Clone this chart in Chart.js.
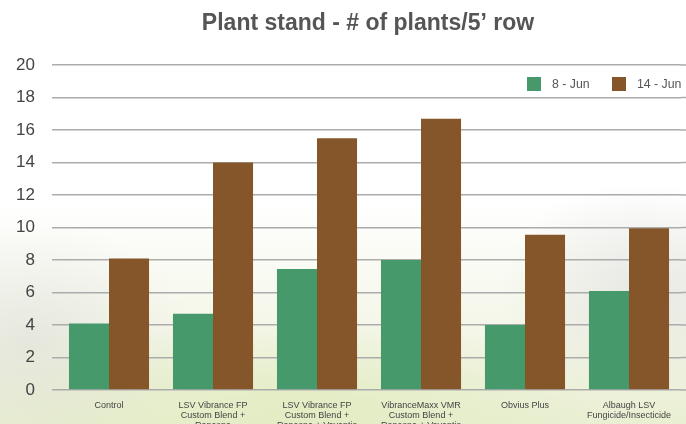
<!DOCTYPE html>
<html>
<head>
<meta charset="utf-8">
<script src="https://cdn.jsdelivr.net/npm/chart.js@4"></script>
<style>
    html, body { margin: 0; padding: 0; }
    body {
        width: 686px; height: 424px; overflow: hidden;
        background:
            radial-gradient(ellipse 160px 120px at 30px 340px, rgba(205,205,205,0.35), rgba(255,255,255,0)),
            radial-gradient(ellipse 140px 110px at 640px 290px, rgba(215,215,215,0.5), rgba(255,255,255,0)),
            radial-gradient(ellipse 300px 90px at 300px 410px, rgba(225,235,190,0.8), rgba(255,255,255,0)),
            linear-gradient(to bottom, #ffffff 0px, #ffffff 200px, #f4f6e8 330px, #e9efd2 424px);
    }
    #wrap { position: relative; width: 686px; height: 424px; }
</style>
</head>
<body>
<div id="wrap"><canvas id="grafico"></canvas></div>
<script>
var titulo = 'Plant stand - # of plants/5\u2019 row';
var categorias = [
    ['Control'],
    ['LSV Vibrance FP', 'Custom Blend +', 'Rancona'],
    ['LSV Vibrance FP', 'Custom Blend +', 'Rancona + Vayantis'],
    ['VibranceMaxx VMR', 'Custom Blend +', 'Rancona + Vayantis'],
    ['Obvius Plus'],
    ['Albaugh LSV', 'Fungicide/Insecticide']
];
var nomesSeries = ['8 - Jun', '14 - Jun'];
var valores8Jun = [4.1, 4.7, 7.45, 8.0, 4.0, 6.1];
var valores14Jun = [8.1, 14.0, 15.5, 16.7, 9.55, 9.95];
var ticksY = [0, 2, 4, 6, 8, 10, 12, 14, 16, 18, 20];

var fonte = '"Liberation Sans", Arial, sans-serif';

// titulo e legenda desenhados a mao (posicoes do original)
var pluginTituloLegenda = {
    id: 'tituloLegenda',
    beforeDatasetsDraw: function (chart) {
        // as linhas de grade vao ate a borda direita
        var c = chart.ctx;
        var y = chart.scales.y;
        c.save();
        c.strokeStyle = '#acacac';
        c.lineWidth = 1.5;
        ticksY.forEach(function (v) {
            var py = y.getPixelForValue(v);
            c.beginPath();
            c.moveTo(chart.chartArea.right, py);
            c.lineTo(chart.width, py);
            c.stroke();
        });
        c.restore();
    },
    afterDraw: function (chart) {
        var c = chart.ctx;
        c.save();
        c.font = 'bold 23px ' + fonte;
        c.fillStyle = '#555555';
        c.textAlign = 'center';
        c.textBaseline = 'alphabetic';
        c.fillText(titulo, 368, 30);

        // legenda
        c.font = '12.3px ' + fonte;
        c.textAlign = 'left';
        c.textBaseline = 'middle';
        var posX = [527, 612];
        var y = 84;
        chart.data.datasets.forEach(function (ds, i) {
            c.fillStyle = ds.backgroundColor;
            c.fillRect(posX[i], y - 7, 14, 14);
            c.fillStyle = '#555555';
            c.fillText(ds.label, posX[i] + 25, y + 1);
        });
        c.restore();
    }
};

var ctx = document.getElementById('grafico');
var myChart = new Chart(ctx, {
    type: 'bar',
    data: {
        labels: categorias,
        datasets: [{
            label: nomesSeries[0],
            data: valores8Jun,
            backgroundColor: '#46996b',
            borderWidth: 0
        }, {
            label: nomesSeries[1],
            data: valores14Jun,
            backgroundColor: '#84562a',
            borderWidth: 0
        }]
    },
    options: {
        responsive: true,
        maintainAspectRatio: false,
        animation: false,
        layout: {
            padding: { top: 65, right: 5, left: 0, bottom: 0 }
        },
        datasets: {
            bar: { categoryPercentage: 0.77, barPercentage: 1.0 }
        },
        plugins: {
            title: { display: false },
            tooltip: { enabled: false },
            legend: { display: false }
        },
        scales: {
            x: {
                grid: { display: false },
                border: { display: false },
                ticks: {
                    color: '#444444',
                    maxRotation: 0,
                    autoSkip: false,
                    padding: 2,
                    font: { family: fonte, size: 9, lineHeight: 1.15 }
                },
                afterFit: function (scale) { scale.height = 34; }
            },
            y: {
                min: 0,
                max: 20,
                afterBuildTicks: function (scale) {
                    scale.ticks = ticksY.map(function (v) { return { value: v }; });
                },
                grid: {
                    color: '#acacac',
                    lineWidth: 1.5,
                    drawTicks: true,
                    tickLength: 5
                },
                border: { display: false },
                ticks: {
                    color: '#444444',
                    padding: 17,
                    font: { family: fonte, size: 17 }
                },
                afterFit: function (scale) { scale.width = 57; }
            }
        }
    },
    plugins: [pluginTituloLegenda]
});
</script>
</body>
</html>
